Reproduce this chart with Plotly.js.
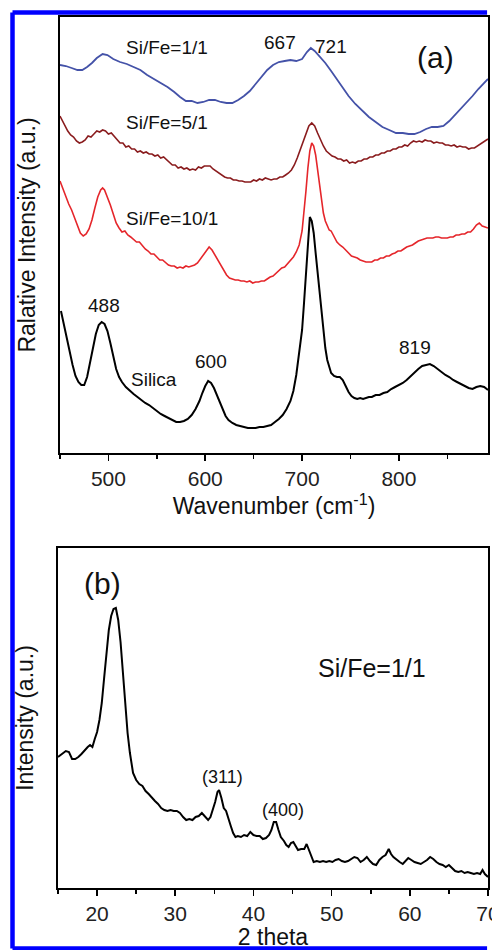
<!DOCTYPE html>
<html>
<head>
<meta charset="utf-8">
<script src="https://cdn.plot.ly/plotly-3.0.1.min.js"></script>
<style>html,body{margin:0;padding:0;background:#fff;overflow:hidden;}#chart{width:492px;height:950px;overflow:hidden;}</style>
</head>
<body>
<div id="chart"></div>
<script>
// ---------- Panel (a): spectra, wavenumber (cm-1) vs relative intensity ----------
var wn_1_1 = [450,456,462,468,473,478,483,488,494,499,505,512,519,526,533,540,547,554,561,568,574,580,586,592,598,604,610,616,622,628,634,640,646,652,658,664,670,676,682,688,694,700,705,709,713,718,724,730,736,742,748,755,762,769,776,783,790,797,804,810,816,822,828,834,840,846,852,858,864,870,876,882,888,892];
var int_1_1 = [388,387,385,383,383,386,390,395,399,398,394,391,389,386,383,378,374,370,366,361,356,352,352,350,351,353,353,351,350,350,353,357,362,369,376,383,388,391,392,393,392,394,401,405,402,397,390,382,374,365,357,349,342,336,331,326,323,320,320,319,319,321,324,326,326,327,332,338,344,350,357,364,370,374];

var wn_5_1 = [450,452,455,458,461,464,467,470,473,476,479,482,485,488,491,494,497,500,503,506,509,512,515,518,521,524,527,530,533,536,539,542,545,548,551,554,557,560,563,566,569,572,575,578,581,584,587,590,593,596,599,602,605,608,611,614,617,620,623,626,629,632,635,638,641,644,647,650,653,656,659,662,665,668,671,674,677,680,683,686,689,692,695,698,701,704,707,710,713,716,719,722,725,728,731,734,737,740,743,746,749,752,755,758,761,764,767,770,773,776,779,782,785,788,791,794,797,800,803,806,809,812,815,818,821,824,827,830,833,836,839,842,845,848,851,854,857,860,863,866,869,872,875,878,881,884,887,890,892];
var int_5_1 = [337,333,328,322,318,316,312,310,311,313,317,316,319,322,321,323,322,319,320,317,314,310,310,306,307,304,304,301,302,300,301,299,299,297,298,295,296,293,290,288,288,285,286,284,285,283,284,283,286,285,287,287,287,284,282,280,278,276,275,275,273,273,272,272,271,271,271,273,272,274,273,275,274,273,274,274,276,276,278,280,283,288,295,303,313,321,327,330,327,320,313,307,302,299,297,296,294,294,292,293,290,291,290,292,292,294,294,296,296,298,298,300,300,302,302,304,304,306,306,308,307,310,312,311,312,311,313,312,312,310,311,310,310,308,308,307,308,306,307,306,306,304,305,305,307,309,311,313,314];

var wn_10_1 = [450,453,456,459,462,465,468,471,474,477,480,483,486,489,492,494,496,499,502,505,508,511,514,517,520,523,526,529,532,535,538,541,544,547,550,553,556,559,562,565,568,571,574,577,580,583,586,589,592,595,598,601,604,607,610,613,616,619,622,625,628,631,634,637,640,643,646,649,652,655,658,661,664,667,670,673,676,679,682,685,688,691,694,697,700,702,704,706,708,710,712,714,716,718,720,722,724,726,728,730,733,736,739,742,745,748,751,754,757,760,763,766,769,772,775,778,781,784,787,790,793,796,799,802,805,808,811,814,817,820,823,826,829,832,835,838,841,844,847,850,853,856,859,862,865,868,871,874,877,880,883,886,889,892];
var int_10_1 = [272,264,256,249,243,235,227,220,217,219,224,233,245,256,263,265,263,256,248,239,230,225,221,222,218,216,213,211,211,207,204,202,199,199,196,193,193,190,188,187,187,185,186,185,187,186,187,188,190,194,198,202,206,203,198,193,188,183,178,175,174,173,173,172,172,171,172,170,171,171,172,172,174,176,177,180,182,185,186,189,192,196,201,208,222,240,262,285,302,310,307,298,283,267,252,240,232,227,223,222,216,211,208,206,203,200,197,196,195,193,192,191,191,191,193,193,195,195,197,197,199,200,202,202,204,206,207,208,210,212,213,214,215,215,215,216,216,215,215,215,216,216,218,218,219,219,221,221,224,228,230,227,226,225];

var wn_silica = [451,454,457,460,463,466,469,472,475,478,481,484,487,490,493,496,499,502,505,508,511,514,518,522,526,530,534,538,542,546,550,554,558,562,566,570,574,578,582,586,590,594,597,600,603,606,609,612,615,618,621,624,628,632,636,640,644,648,652,656,660,664,668,672,676,680,684,688,691,694,697,700,702,704,706,707,708,710,712,714,716,718,720,722,724,726,728,730,733,736,739,742,745,748,751,754,757,760,763,766,769,772,776,780,784,788,792,796,800,804,808,812,816,820,824,828,832,836,840,844,848,852,856,860,864,868,872,876,880,884,888,892];
var int_silica = [142,128,114,100,88,77,71,68,68,76,90,106,119,128,131,129,122,110,96,84,76,71,66,62,59,56,53,50,48,45,42,39,37,35,33,31,31,32,34,38,44,52,60,67,72,70,65,58,50,43,37,33,30,28,27,26,25,25,25,26,26,27,28,31,34,38,44,52,62,78,98,123,150,178,205,222,236,232,220,200,180,160,140,123,105,93,85,80,77,76,76,73,67,61,57,55,54,55,54,55,56,56,58,58,60,61,64,66,68,70,73,77,81,84,87,88,89,87,84,81,78,76,73,71,69,67,65,64,66,67,66,63,60];

// ---------- Panel (b): XRD, 2 theta vs intensity ----------
var theta2 = [15.0,15.5,16.0,16.4,16.8,17.2,17.6,18.0,18.4,18.8,19.1,19.4,19.7,20.0,20.3,20.6,20.9,21.2,21.5,21.8,22.1,22.4,22.7,23.0,23.3,23.6,23.9,24.2,24.6,25.0,25.4,25.8,26.2,26.6,27.0,27.4,27.8,28.2,28.6,29.0,29.4,29.8,30.2,30.6,31.0,31.4,31.8,32.2,32.6,33.0,33.4,33.8,34.2,34.5,34.8,35.1,35.4,35.6,35.9,36.2,36.5,36.8,37.1,37.4,37.7,38.0,38.4,38.8,39.2,39.6,40.0,40.4,40.8,41.2,41.6,42.0,42.3,42.6,42.9,43.2,43.5,43.9,44.2,44.5,44.8,45.1,45.4,45.7,46.1,46.5,46.8,47.1,47.4,47.7,48.1,48.5,48.9,49.3,49.7,50.1,50.5,50.9,51.3,51.7,52.1,52.5,52.9,53.3,53.7,54.1,54.5,54.9,55.3,55.7,56.1,56.5,56.9,57.3,57.6,57.9,58.3,58.7,59.1,59.5,59.8,60.2,60.6,61.0,61.4,61.8,62.2,62.6,63.0,63.4,63.8,64.2,64.6,65.0,65.4,65.8,66.2,66.6,67.0,67.4,67.8,68.2,68.6,69.0,69.3,69.6,70.0];
var xrd = [131,134,137,136,129,129,131,134,138,141,143,141,149,156,168,185,210,238,258,272,279,280,268,246,215,183,155,135,115,108,104,102,97,94,90,87,84,80,78,77,78,77,77,75,71,68,69,68,71,72,75,72,68,71,78,86,96,98,90,80,77,68,62,55,51,52,51,53,52,56,53,52,52,49,50,53,58,66,66,58,51,47,43,41,45,46,42,38,39,39,44,38,30,26,27,26,27,26,27,26,28,29,27,26,27,29,31,30,26,28,31,27,24,23,28,31,33,39,34,31,28,26,24,27,30,28,26,25,24,26,28,31,29,26,24,23,21,23,20,17,16,17,15,16,15,14,15,14,18,14,11];

// ---------- Labels ----------
var xTicksA = [500,600,700,800];
var xTicksB = [20,30,40,50,60,70];
var labelsA = [
  {t:'Si/Fe=1/1', x:561, y:406},
  {t:'667', x:677, y:411},
  {t:'721', x:730, y:407},
  {t:'Si/Fe=5/1', x:561, y:331},
  {t:'Si/Fe=10/1', x:566, y:235},
  {t:'488', x:495, y:148},
  {t:'Silica', x:547, y:74},
  {t:'600', x:606, y:92},
  {t:'819', x:816.5, y:106}
];
var panelA = {t:'(a)', x:838, y:396};
var panelB = {t:'(b)', x:20.7, y:305};
var labelsB = [
  {t:'(311)', x:36.1, y:111},
  {t:'(400)', x:43.8, y:78}
];
var sampleB = {t:'Si/Fe=1/1', x:55.1, y:220};

var FONT = 'Liberation Sans, Arial, Helvetica, sans-serif';

var traces = [
  {x:wn_1_1, y:int_1_1, type:'scatter', mode:'lines', name:'Si/Fe=1/1', line:{color:'#4452A8', width:1.8}, xaxis:'x', yaxis:'y'},
  {x:wn_5_1, y:int_5_1, type:'scatter', mode:'lines', name:'Si/Fe=5/1', line:{color:'#8A1C1E', width:1.6}, xaxis:'x', yaxis:'y'},
  {x:wn_10_1, y:int_10_1, type:'scatter', mode:'lines', name:'Si/Fe=10/1', line:{color:'#E5262B', width:1.6}, xaxis:'x', yaxis:'y'},
  {x:wn_silica, y:int_silica, type:'scatter', mode:'lines', name:'Silica', line:{color:'#000000', width:2}, xaxis:'x', yaxis:'y'},
  {x:theta2, y:xrd, type:'scatter', mode:'lines', name:'XRD Si/Fe=1/1', line:{color:'#000000', width:2}, xaxis:'x2', yaxis:'y2'}
];

var annotations = [];
labelsA.forEach(function(a){
  annotations.push({text:a.t, x:a.x, y:a.y, xref:'x', yref:'y', showarrow:false, font:{family:FONT, size:19, color:'#111'}});
});
annotations.push({text:panelA.t, x:panelA.x, y:panelA.y, xref:'x', yref:'y', showarrow:false, font:{family:FONT, size:30, color:'#111'}});
annotations.push({text:panelB.t, x:panelB.x, y:panelB.y, xref:'x2', yref:'y2', showarrow:false, font:{family:FONT, size:30, color:'#111'}});
labelsB.forEach(function(a){
  annotations.push({text:a.t, x:a.x, y:a.y, xref:'x2', yref:'y2', showarrow:false, font:{family:FONT, size:18, color:'#111'}});
});
annotations.push({text:sampleB.t, x:sampleB.x, y:sampleB.y, xref:'x2', yref:'y2', showarrow:false, font:{family:FONT, size:25, color:'#111'}});

var axisCommon = {
  showline:true, linecolor:'#000', linewidth:1.6, mirror:true,
  showgrid:false, zeroline:false, automargin:false,
  tickfont:{family:FONT, size:21, color:'#222'}
};

var BX = 12.5/492, BR = 0.99, BT = 1-12.5/950, BB = 1-948.5/950;

var layout = {
  width:492, height:950,
  margin:{l:0, r:0, t:0, b:0},
  paper_bgcolor:'#fff', plot_bgcolor:'#fff',
  showlegend:false,
  font:{family:FONT, color:'#111'},
  xaxis: Object.assign({}, axisCommon, {
    domain:[60/492, 488/492], range:[450, 892], anchor:'y',
    tickmode:'array', tickvals:xTicksA, ticks:'outside', ticklen:6, tickwidth:1.6, tickcolor:'#000',
    minor:{dtick:50, tick0:450, ticks:'outside', ticklen:4, tickwidth:1.6, tickcolor:'#000', showgrid:false},
    title:{text:'Wavenumber (cm<sup>-1</sup>)', font:{family:FONT, size:23, color:'#111'}, standoff:5}
  }),
  yaxis: Object.assign({}, axisCommon, {
    domain:[1-453/950, 1-17/950], range:[0, 436], anchor:'x',
    showticklabels:false, ticks:'',
    title:{text:'Ralative Intensity (a.u.)', font:{family:FONT, size:23, color:'#111'}, standoff:16}
  }),
  xaxis2: Object.assign({}, axisCommon, {
    domain:[58/492, 488/492], range:[15, 70], anchor:'y2',
    tickmode:'array', tickvals:xTicksB, ticks:'outside', ticklen:6, tickwidth:1.6, tickcolor:'#000',
    ticklabeloverflow:'allow',
    minor:{dtick:5, tick0:15, ticks:'outside', ticklen:4, tickwidth:1.6, tickcolor:'#000', showgrid:false},
    title:{text:'2 theta', font:{family:FONT, size:23, color:'#111'}, standoff:5}
  }),
  yaxis2: Object.assign({}, axisCommon, {
    domain:[1-888/950, 1-548/950], range:[0, 340], anchor:'x2',
    showticklabels:false, ticks:'',
    title:{text:'Intensity (a.u.)', font:{family:FONT, size:23, color:'#111'}, standoff:16}
  }),
  annotations: annotations,
  shapes:[
    {type:'line', xref:'paper', yref:'paper', layer:'above', x0:BX, x1:BR, y0:BT, y1:BT, line:{color:'#0000FF', width:4.5}},
    {type:'line', xref:'paper', yref:'paper', layer:'above', x0:BX, x1:BX, y0:BT, y1:BB, line:{color:'#0000FF', width:4.5}},
    {type:'line', xref:'paper', yref:'paper', layer:'above', x0:BX, x1:BR, y0:BB, y1:BB, line:{color:'#0000FF', width:4.5}}
  ]
};

Plotly.newPlot('chart', traces, layout, {staticPlot:true, displayModeBar:false});
</script>
</body>
</html>
